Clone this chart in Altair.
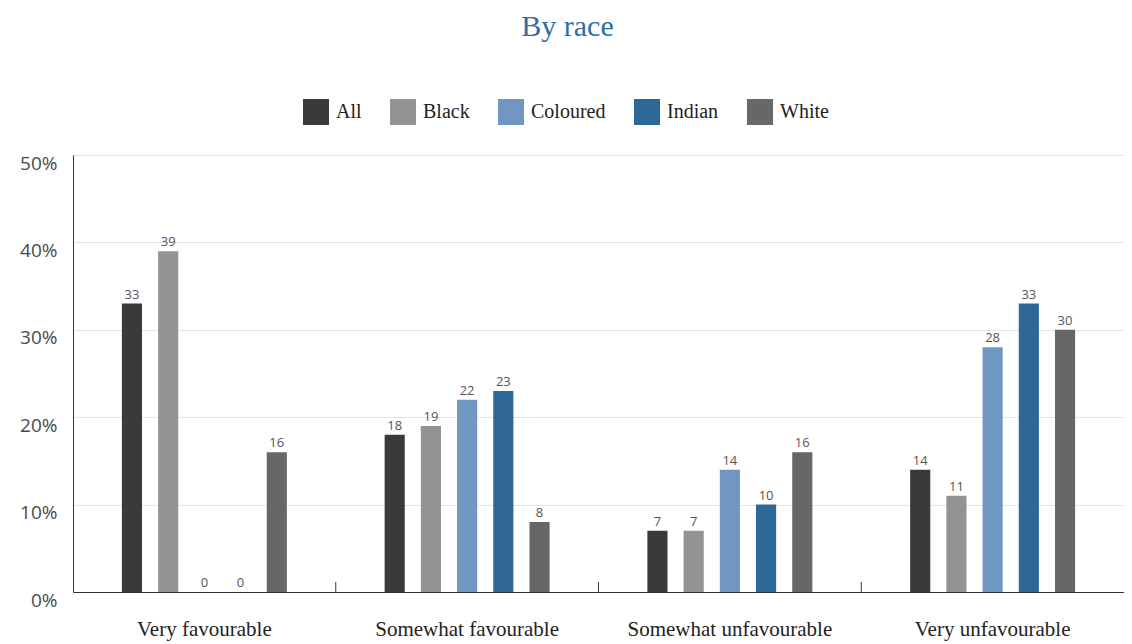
import altair as alt
import pandas as pd

categories = ["Very favourable", "Somewhat favourable", "Somewhat unfavourable", "Very unfavourable"]
groups = ["All", "Black", "Coloured", "Indian", "White"]
colors = ["#3a3a3a", "#939396", "#6f97c2", "#2e6896", "#696765"]
values = {
    "All":      [33, 18, 7, 14],
    "Black":    [39, 19, 7, 11],
    "Coloured": [0, 22, 14, 28],
    "Indian":   [0, 23, 10, 33],
    "White":    [16, 8, 16, 30],
}
y_ticks = [0, 10, 20, 30, 40, 50]

rows = []
for g in groups:
    for c, v in zip(categories, values[g]):
        rows.append({"cat": c, "group": g, "value": v})
df = pd.DataFrame(rows)
tick_df = pd.DataFrame({"cat": categories[1:]})

W, H = 1051, 437
offset_domain = ["_pad_l"] + groups + ["_pad_r"]

x = alt.X("cat:N", sort=categories, title=None,
          scale=alt.Scale(paddingInner=0, paddingOuter=0),
          axis=alt.Axis(labelAngle=0, ticks=False, domain=True, domainColor="#333333",
                        labelFont="Liberation Serif", labelFontSize=21, labelColor="#222222",
                        labelPadding=26, labelLimit=0, grid=False))
xo = alt.XOffset("group:N",
                 scale=alt.Scale(domain=offset_domain, paddingInner=0.444, paddingOuter=0.35))
y = alt.Y("value:Q", title=None,
          scale=alt.Scale(domain=[0, 50], nice=False),
          axis=alt.Axis(values=y_ticks, labelExpr="datum.value + '%'", ticks=False,
                        domain=True, domainColor="#333333", gridColor="#e3e3e3",
                        labelFont="Open Sans", labelFontSize=19, labelColor="#4a4a4a",
                        labelPadding=16, labelOffset=8))

bars = alt.Chart(df).mark_bar().encode(
    x=x, xOffset=xo, y=y,
    color=alt.Color("group:N", sort=groups,
                    scale=alt.Scale(domain=groups, range=colors),
                    legend=alt.Legend(title=None, orient="none", direction="horizontal",
                                      legendX=230, legendY=-56,
                                      symbolType="square", symbolSize=676,
                                      symbolStrokeWidth=0, symbolOpacity=1,
                                      labelFont="Liberation Serif", labelFontSize=20,
                                      labelColor="#222222", labelOffset=7,
                                      columnPadding=28)),
)

labels = alt.Chart(df).mark_text(dy=-9, font="Open Sans", fontSize=13, color="#555555").encode(
    x=alt.X("cat:N", sort=categories), xOffset=xo,
    y=alt.Y("value:Q"), text=alt.Text("value:Q"),
)

ticks = alt.Chart(tick_df).mark_rule(color="#333333", strokeWidth=1).encode(
    x=alt.X("cat:N", sort=categories, bandPosition=0),
    y=alt.value(H - 10), y2=alt.value(H),
)

chart = alt.layer(bars, labels, ticks).properties(
    width=W, height=H,
    title=alt.TitleParams("By race", font="Liberation Serif", fontSize=30,
                          fontWeight="normal", color="#2f6ea5", anchor="middle",
                          offset=57, dx=-31),
    autosize=alt.AutoSizeParams(type="none"),
    padding={"left": 65, "top": 147, "right": 0, "bottom": 52},
).configure_view(stroke=None)

chart.save("out.html", embed_options={"renderer": "svg", "actions": False})
